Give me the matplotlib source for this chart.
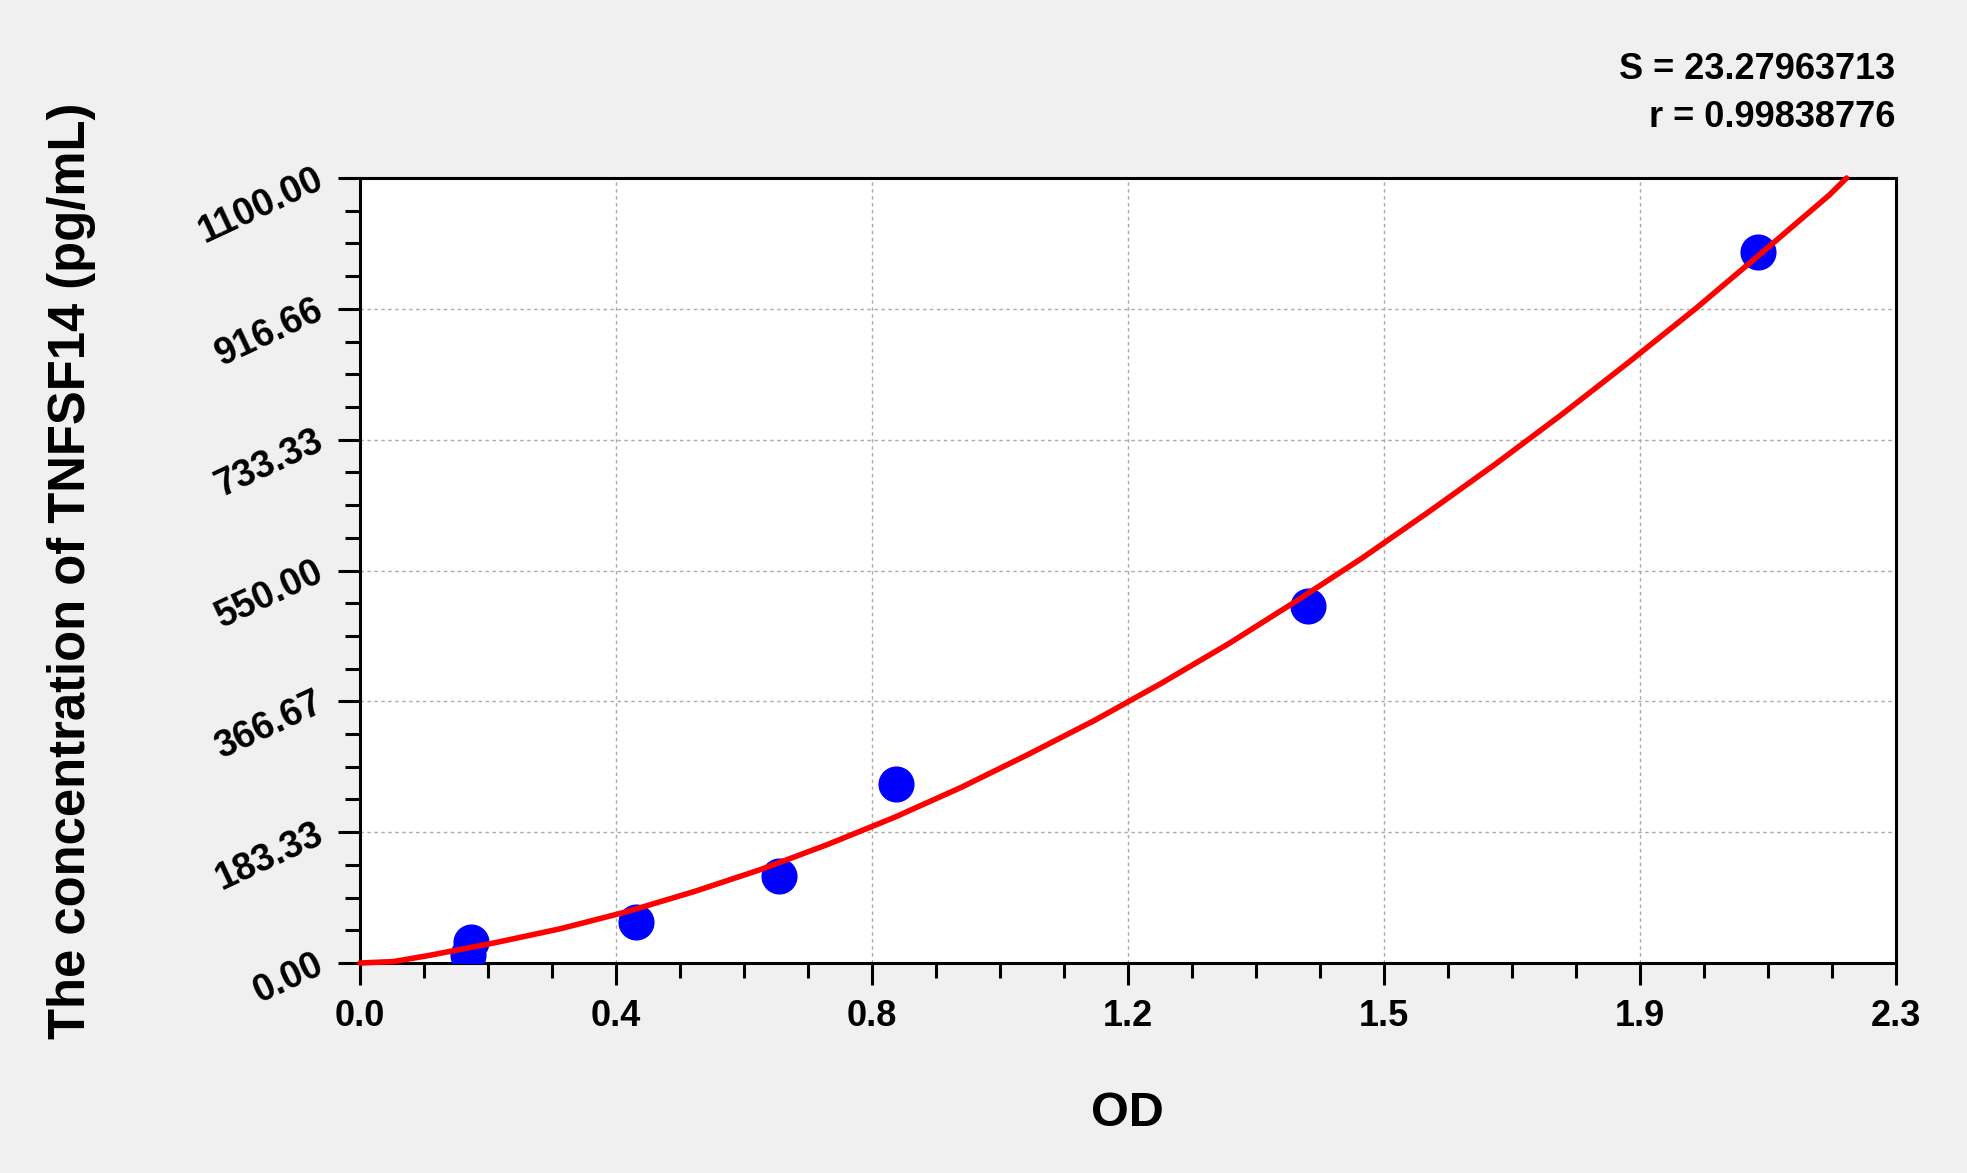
import matplotlib
matplotlib.use("Agg")
import matplotlib.pyplot as plt
from matplotlib.ticker import FixedLocator, FixedFormatter

plt.rcParams['font.family'] = ['Liberation Sans', 'DejaVu Sans']
plt.rcParams['font.weight'] = 'bold'

# ---- data ----
od_points = [0.162, 0.166, 0.413, 0.627, 0.803, 1.420, 2.093]
conc_points = [11, 30, 58, 122, 251, 500, 997]

curve_od = [0.0, 0.05, 0.1, 0.2, 0.3, 0.4, 0.5, 0.6, 0.7, 0.8, 0.9, 1.0, 1.1,
            1.2, 1.3, 1.4, 1.5, 1.6, 1.7, 1.8, 1.9, 2.0, 2.1, 2.2, 2.226]
curve_conc = [0, 2, 10, 28, 48, 72, 100, 131, 166, 204, 246, 292, 340,
              392, 447, 506, 567, 632, 699, 769, 842, 917, 996, 1076, 1100]

x_ticks = [0.0, 0.38333, 0.76667, 1.15, 1.53333, 1.91667, 2.3]
x_tick_labels = ['0.0', '0.4', '0.8', '1.2', '1.5', '1.9', '2.3']
y_ticks = [0.0, 183.33, 366.67, 550.0, 733.33, 916.66, 1100.0]
y_tick_labels = ['0.00', '183.33', '366.67', '550.00', '733.33', '916.66', '1100.00']

stats_lines = ['S = 23.27963713', 'r = 0.99838776']
x_label = 'OD'
y_label = 'The concentration of TNFSF14 (pg/mL)'

W, H = 1967, 1173
fig = plt.figure(figsize=(W / 100, H / 100), dpi=100, facecolor='#F0F0F0')
ax = fig.add_axes([360 / W, 1 - 963 / H, 1536 / W, 785 / H])
ax.set_facecolor('white')

ax.set_xlim(0, 2.3)
ax.set_ylim(0, 1100)

ax.xaxis.set_major_locator(FixedLocator(x_ticks))
ax.xaxis.set_major_formatter(FixedFormatter(x_tick_labels))
ax.yaxis.set_major_locator(FixedLocator(y_ticks))
ax.yaxis.set_major_formatter(FixedFormatter(y_tick_labels))
x_minor = [x_ticks[i] + (x_ticks[i + 1] - x_ticks[i]) * k / 4
           for i in range(len(x_ticks) - 1) for k in (1, 2, 3)]
y_minor = [y_ticks[i] + (y_ticks[i + 1] - y_ticks[i]) * k / 4
           for i in range(len(y_ticks) - 1) for k in (1, 2, 3)]
ax.xaxis.set_minor_locator(FixedLocator(x_minor))
ax.yaxis.set_minor_locator(FixedLocator(y_minor))

ax.grid(True, which='major', color='#AAAAAA', linestyle=(0, (2.5, 2.5)), linewidth=1.0)
ax.set_axisbelow(True)

for s in ax.spines.values():
    s.set_linewidth(2.2)
    s.set_color('black')

ax.tick_params(axis='both', which='major', direction='out', length=16, width=2.2,
               labelsize=26, color='black')
ax.tick_params(axis='both', which='minor', direction='out', length=11, width=2.2,
               color='black')
ax.tick_params(axis='x', which='major', pad=10)
ax.tick_params(axis='y', which='major', pad=12)

for lbl in ax.get_xticklabels():
    lbl.set_fontweight('bold')
for lbl in ax.get_yticklabels():
    lbl.set_fontweight('bold')
    lbl.set_fontsize(27)
    lbl.set_rotation(25)
    lbl.set_rotation_mode('anchor')
    lbl.set_ha('right')
    lbl.set_va('center')

# data
ax.plot(od_points, conc_points, linestyle='none', marker='o', markersize=25,
        markerfacecolor='#0000FF', markeredgecolor='#0000FF', zorder=4)
ax.plot(curve_od, curve_conc, color='#FF0000', linewidth=4, zorder=6,
        clip_on=False, solid_capstyle='round')

# labels
fig.text(1127 / W, 1 - 1113 / H, x_label, ha='center', va='center',
         fontsize=35, fontweight='bold')
fig.text(72 / W, 1 - 571 / H, y_label, ha='center', va='center', rotation=90,
         fontsize=36.5, fontweight='bold')

fig.text(1895 / W, 1 - 79 / H, stats_lines[0], ha='right', va='baseline',
         fontsize=26, fontweight='bold')
fig.text(1895 / W, 1 - 127 / H, stats_lines[1], ha='right', va='baseline',
         fontsize=26, fontweight='bold')

fig.savefig('out.png', dpi=100, facecolor=fig.get_facecolor())
